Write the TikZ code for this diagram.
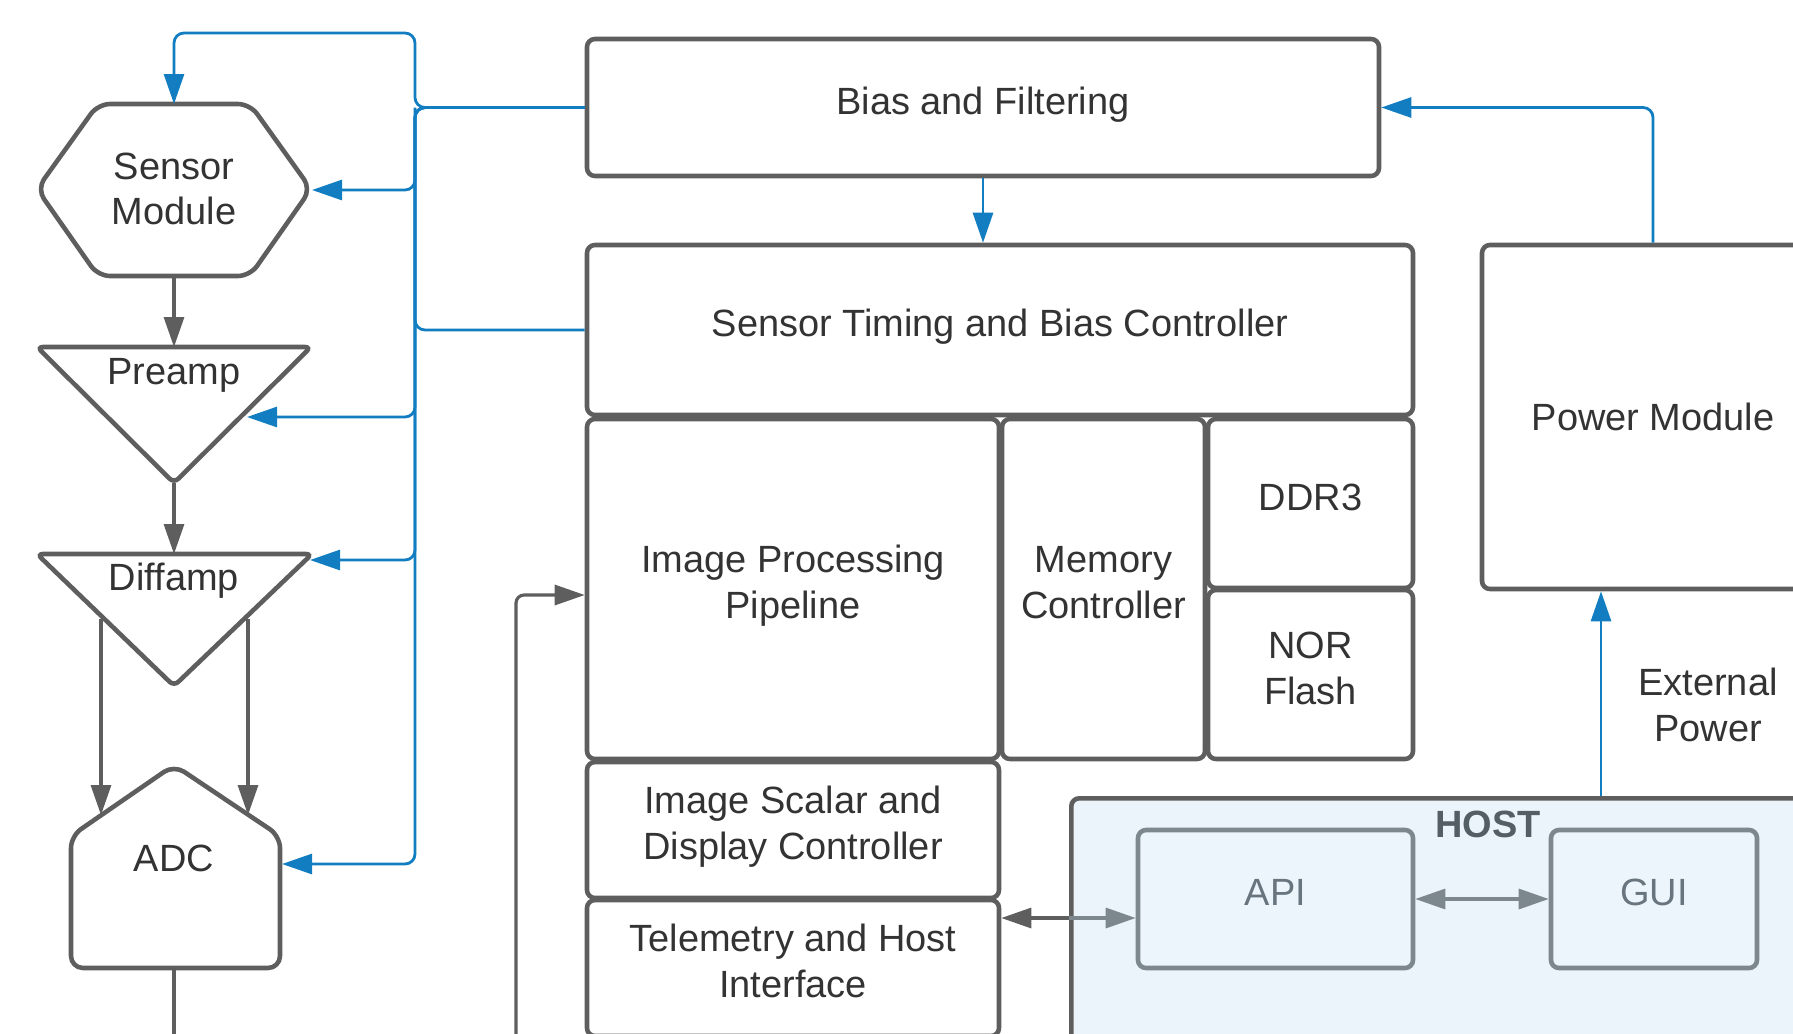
\documentclass[tikz,border=0pt]{standalone}
\usepackage{fontspec}
\setmainfont{Liberation Sans}
\usepackage{tikz}
\usetikzlibrary{arrows.meta,positioning}
\usepackage{xcolor}
\definecolor{lcgrey}{RGB}{94,94,94}
\definecolor{lcblue}{RGB}{18,125,193}
\definecolor{lctext}{RGB}{51,51,51}
\definecolor{lchostfill}{RGB}{235,243,251}
\definecolor{lcapifill}{RGB}{237,245,252}
\definecolor{lcslate}{RGB}{124,135,142}
\definecolor{lcslatetext}{RGB}{104,117,126}
\tikzstyle{block} = [rectangle, rounded corners=0.08cm, draw=lcgrey, line width=1.3pt, fill=white, text=lctext, align=center, inner sep=0pt, text height=6pt, text depth=2.2pt]
\tikzstyle{twoline} = [text height=19pt, text depth=2.2pt]
\tikzstyle{hostbox} = [rectangle, rounded corners=0.08cm, draw=lcgrey, line width=1.3pt, fill=lchostfill, inner sep=0pt]
\tikzstyle{apibox} = [rectangle, rounded corners=0.08cm, draw=lcslate, line width=1.3pt, fill=lcapifill, text=lcslatetext, align=center, inner sep=0pt, text height=6pt, text depth=2.2pt]
\tikzstyle{shapeline} = [draw=lcgrey, line width=1.3pt, rounded corners=0.12cm, fill=white]
\tikzstyle{label} = [text=lctext, align=center]
\tikzstyle{gline} = [line width=0.9pt, draw=lcgrey]
\tikzstyle{garrow} = [gline, rounded corners=0.08cm, -{Triangle[length=3mm,width=2mm]}]
\tikzstyle{barrow} = [line width=0.8pt, draw=lcblue, rounded corners=0.1cm, -{Triangle[length=3mm,width=2mm]}]
\tikzstyle{bline} = [line width=0.8pt, draw=lcblue, rounded corners=0.1cm]
\tikzstyle{sarrow} = [line width=0.9pt, draw=lcslate, -{Triangle[length=3mm,width=2mm]}]

\begin{document}
\begin{tikzpicture}[font=\fontsize{10.8}{13}\selectfont]
\useasboundingbox (0,0) rectangle (17.93,-10.33);
\clip (0,0) rectangle (17.93,-10.33);

% Host group
\node[hostbox, minimum width=8.38cm, minimum height=3.0cm, anchor=north west] (host) at (10.69,-7.96) {};
\node[font=\fontsize{10.8}{13}\selectfont\bfseries, text=lcslatetext!80!black] (hostlabel) at (14.88,-8.24) {HOST};
\node[apibox, minimum width=2.75cm, minimum height=1.38cm] (api) at (12.755,-8.99) {API};
\node[apibox, minimum width=2.06cm, minimum height=1.38cm] (gui) at (16.54,-8.99) {GUI};

% Main blocks
\node[block, minimum width=7.92cm, minimum height=1.37cm] (bias) at (9.83,-1.075) {Bias and Filtering};
\node[block, minimum width=8.26cm, minimum height=1.70cm] (timing) at (10.00,-3.30) {Sensor Timing and Bias Controller};
\node[block, twoline, minimum width=4.12cm, minimum height=3.40cm] (ipp) at (7.93,-5.89) {Image Processing\\Pipeline};
\node[block, twoline, minimum width=2.03cm, minimum height=3.40cm] (memctl) at (11.035,-5.89) {Memory\\Controller};
\node[block, minimum width=2.05cm, minimum height=1.69cm] (ddr) at (13.105,-5.035) {DDR3};
\node[block, twoline, minimum width=2.05cm, minimum height=1.69cm] (nor) at (13.105,-6.745) {NOR\\Flash};
\node[block, twoline, minimum width=4.12cm, minimum height=1.36cm] (scalar) at (7.93,-8.30) {Image Scalar and\\Display Controller};
\node[block, twoline, minimum width=4.12cm, minimum height=1.36cm] (telem) at (7.93,-9.68) {Telemetry and Host\\Interface};
\node[block, text height=7.9pt, text depth=0pt, minimum width=3.42cm, minimum height=3.44cm] (power) at (16.53,-4.17) {Power Module};
\node[label] (extpwr) at (17.08,-7.05) {External\\Power};

% Sensor chain
\draw[shapeline] (0.37,-1.89) -- (0.98,-1.04) -- (2.50,-1.04) -- (3.11,-1.89) -- (2.50,-2.76) -- (0.98,-2.76) -- cycle;
\node[label] (sm) at (1.74,-1.89) {Sensor\\Module};
\draw[shapeline, rounded corners=0.06cm] (0.37,-3.47) -- (3.11,-3.47) -- (1.74,-4.83) -- cycle;
\node[label] (pre) at (1.74,-3.75) {Preamp};
\draw[shapeline, rounded corners=0.06cm] (0.37,-5.54) -- (3.12,-5.54) -- (1.74,-6.86) -- cycle;
\node[label] (diff) at (1.74,-5.81) {Diffamp};
\draw[shapeline] (1.74,-7.65) -- (2.80,-8.36) -- (2.80,-9.68) -- (0.71,-9.68) -- (0.71,-8.36) -- cycle;
\node[label] (adc) at (1.74,-8.58) {ADC};

% Shape ports
\coordinate (sm-n) at (1.74,-1.04);
\coordinate (sm-s) at (1.74,-2.76);
\coordinate (sm-e) at (3.12,-1.90);
\coordinate (pre-n) at (1.74,-3.47);
\coordinate (pre-s) at (1.74,-4.83);
\coordinate (pre-e) at (2.47,-4.17);
\coordinate (diff-n) at (1.74,-5.54);
\coordinate (diff-l) at (1.01,-6.19);
\coordinate (diff-r) at (2.48,-6.19);
\coordinate (diff-e) at (3.10,-5.60);
\coordinate (adc-l) at (1.01,-8.15);
\coordinate (adc-r) at (2.48,-8.15);
\coordinate (adc-s) at (1.74,-9.68);
\coordinate (adc-e) at (2.82,-8.64);
\coordinate (adcout) at (1.74,-10.6);
\coordinate (fbin) at (5.16,-10.6);
\coordinate (bus) at (4.15,0);
\coordinate (extin) at (16.01,-7.96);
\coordinate (tlink) at (10.69,-9.18);

% Grey arrows
\draw[garrow] (sm-s) -- (pre-n);
\draw[garrow] (pre-s) -- (diff-n);
\draw[garrow] (diff-l) -- (adc-l);
\draw[garrow] (diff-r) -- (adc-r);
\draw[gline] (adc-s) -- (adcout);
\draw[garrow] (fbin) |- ([yshift=-0.06cm]ipp.west);

% Blue bias bus
\draw[barrow] (bias.west) -| (4.15,-0.33) -| (sm-n);
\draw[barrow] (bias.west) -| (bus |- sm-e) -- (sm-e);
\draw[barrow] (bias.west) -| (bus |- pre-e) -- (pre-e);
\draw[barrow] (bias.west) -| (bus |- diff-e) -- (diff-e);
\draw[barrow] (bias.west) -| (bus |- adc-e) -- (adc-e);
\draw[bline] (timing.west) -| (bus |- bias.west);
\draw[barrow] (bias.south) -- (bias.south |- timing.north);
\draw[barrow] (power.north) |- (bias.east);
\draw[barrow] (extin) -- (extin |- power.south);

% Host links
\draw[garrow] (tlink) -- (tlink -| telem.east);
\draw[sarrow] (tlink) -- (tlink -| api.west);
\draw[sarrow, {Triangle[length=3mm,width=2mm]}-{Triangle[length=3mm,width=2mm]}] (api.east) -- (gui.west);
\end{tikzpicture}
\end{document}
